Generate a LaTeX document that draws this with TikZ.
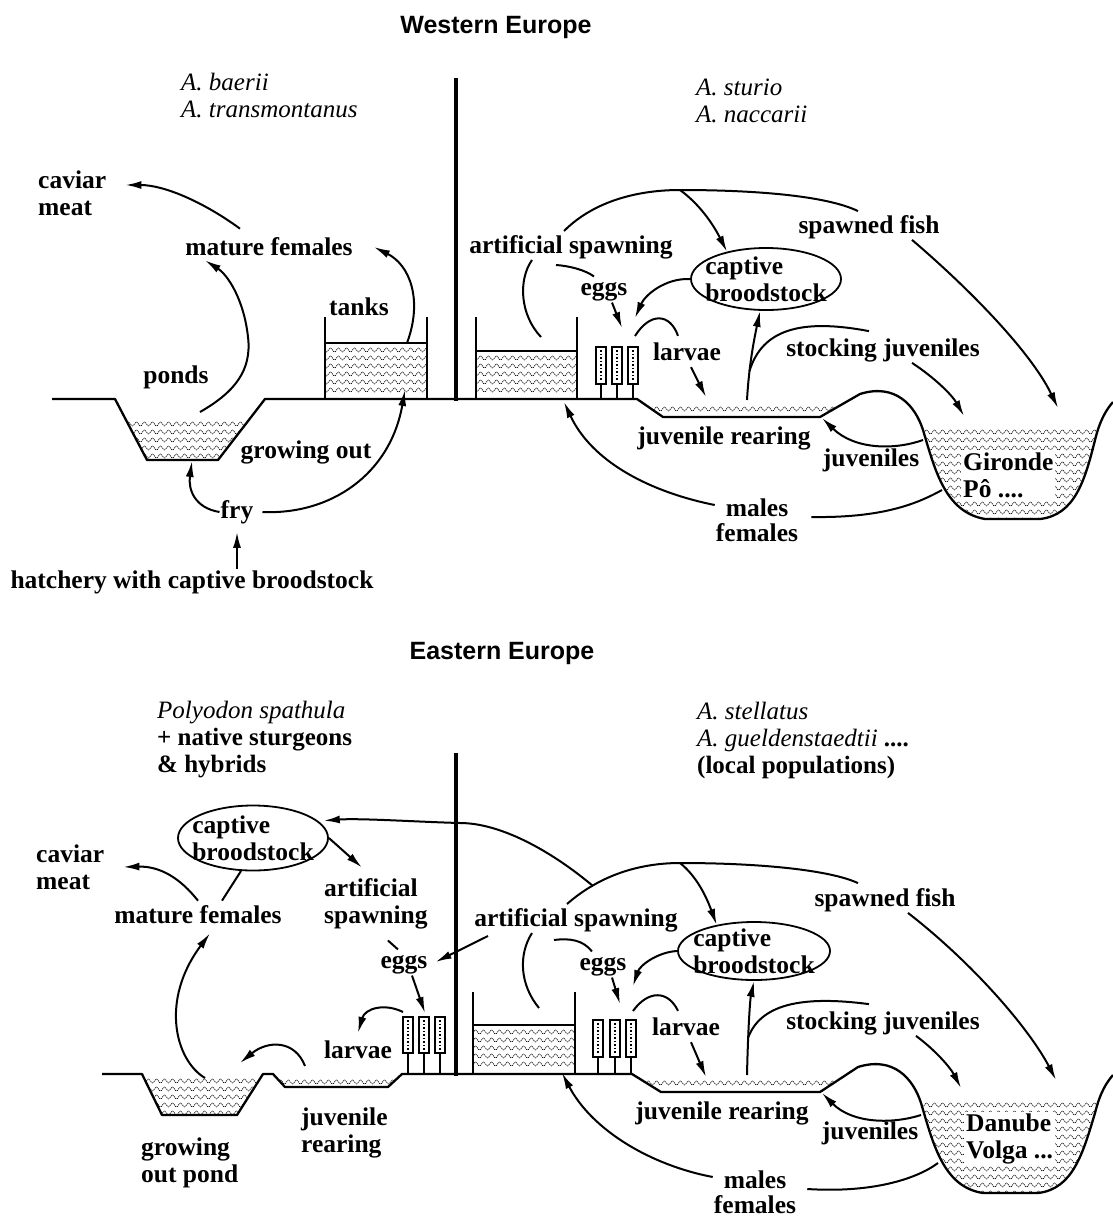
\documentclass[tikz,border=0pt]{standalone}
\usepackage{fontspec}
\setmainfont{Liberation Serif}
\newfontfamily\titrefont{Liberation Sans}
\usetikzlibrary{arrows.meta,shapes.geometric,decorations.pathmorphing}

\newcommand{\etiq}{\bfseries\fontsize{25.5}{27}\selectfont}
\newcommand{\espfont}{\fontsize{25}{27}\selectfont}

\tikzset{
  etiq/.style={font=\etiq, inner sep=1pt, align=center},
  etiqg/.style={font=\etiq, inner sep=1pt, align=left, anchor=west},
  espece/.style={font=\espfont, inner sep=0pt, align=left, anchor=west},
  titre/.style={font=\titrefont\bfseries\fontsize{25}{27}\selectfont},
  trait/.style={line width=2pt},
  fleche/.style={trait, -{Latex[length=16pt,width=8pt]}},
  sol/.style={line width=2.3pt, line join=round},
  paroi/.style={line width=1.9pt},
  bassin/.style={ellipse, draw, line width=1.8pt, minimum width=150pt, minimum height=62pt, inner sep=0pt},
  vague/.style={decorate, decoration={snake, segment length=8pt, amplitude=2pt}, line width=0.6pt, dash pattern=on 1.3pt off 0.8pt},
}

% eau : chemin de découpe, xmin, xmax, premier y, nombre de rangs
\newcommand{\eau}[5]{%
  \begin{scope}
    \clip #1;
    \foreach \k in {0,...,#5}
      \draw[vague] (#2,#4+\k*8) -- (#3,#4+\k*8);
  \end{scope}}

% bocal d'incubation : x, haut, bas, sol
\newcommand{\bocal}[4]{%
  \draw[line width=1.6pt, fill=white] (#1-5,#2) rectangle (#1+5,#3);
  \draw[line width=1.5pt, dotted] (#1,#2+3) -- (#1,#3-3);
  \draw[line width=2.2pt] (#1,#3) -- (#1,#4);}

\begin{document}
\begin{tikzpicture}[x=1pt,y=-1pt]
\useasboundingbox (0,0) rectangle (1113,1221);

%%%%%% Europe de l'Ouest
% Titre et especes
\node[titre] (ouest) at (496,27) {Western Europe};
\node[espece] (espO1) at (181,96) {\textit{A. baerii}\\\textit{A. transmontanus}};
\node[espece] (espO2) at (696,101) {\textit{A. sturio}\\\textit{A. naccarii}};

% Separation
\draw[line width=3.5pt] (456,78) -- (456,401);

% Sol, etang et bassin (gauche)
\draw[sol] (52,399) -- (115,399) -- (147,460) -- (218,460) -- (265,399) -- (456,399);
\eau{(126,420) -- (147,460) -- (218,460) -- (248,420) -- cycle}{110}{270}{424}{4}
\draw[paroi] (325,317) -- (325,399) (427,317) -- (427,399) (325,343) -- (427,343);
\eau{(325,343) rectangle (427,399)}{320}{430}{350}{5}

% Sol, bassin, bocaux et riviere (droite)
\draw[sol] (456,399) -- (637,399) -- (663,417) -- (820,417) -- (860,394)
  .. controls (895,383) and (915,405) .. (923,430)
  .. controls (935,470) and (945,512) .. (985,519) -- (1040,519)
  .. controls (1075,515) and (1085,480) .. (1095,440)
  .. controls (1100,420) and (1106,410) .. (1113,402);
\draw[paroi] (476,317) -- (476,399) (577,317) -- (577,399) (476,351) -- (577,351);
\eau{(476,351) rectangle (577,399)}{470}{580}{358}{4}
\eau{(640,401) -- (663,417) -- (820,417) -- (846,401) -- cycle}{630}{850}{409}{0}
\eau{(913,427) -- (923,430) .. controls (935,470) and (945,512) .. (985,519) -- (1040,519) .. controls (1075,515) and (1085,480) .. (1095,440) -- (1099,427) -- cycle}{900}{1113}{432}{11}
\foreach \x in {601,617,633} {\bocal{\x}{347}{384}{399}}

% Etiquettes (gauche)
\node[etiqg] (cav1) at (37,193) {caviar\\meat};
\node[etiq] (matF1) at (269,247) {mature females};
\node[etiq] (tanks) at (359,307) {tanks};
\node[etiq] (ponds) at (176,377) {ponds};
\node[etiq] (growout) at (306,452) {growing out};
\node[etiq] (fry) at (237,512) {fry};
\node[etiq] (hatch) at (192,582) {hatchery with captive broodstock};

% Etiquettes (droite)
\node[etiq] (artS1) at (571,247) {artificial spawning};
\node[etiq] (eggs1) at (604,292) {eggs};
\node[bassin] (cbR1) at (766,279) {};
\node[etiq, align=left] (cbR1t) at (cbR1) {captive\\broodstock};
\node[etiq] (spawn1) at (869,227) {spawned fish};
\node[etiq] (larv1) at (687,352) {larvae};
\node[etiq] (stock1) at (883,350) {stocking juveniles};
\node[etiq] (juvr1) at (724,438) {juvenile rearing};
\node[etiq] (juvs1) at (871,460) {juveniles};
\node[etiqg, fill=white, inner sep=2pt] (riv1) at (961,475) {Gironde\\Pô ....};
\node[etiq, font=\bfseries\fontsize{25.5}{25}\selectfont] (mf1) at (757,520) {males\\females};

% Points d'attache
\coordinate (pondO1) at (200,412);
\coordinate (pondB1) at (192,461);
\coordinate (tankO1) at (407,343);
\coordinate (tankB1) at (405,390);
\coordinate (sommet1) at (680,190);
\coordinate (rivO1) at (1058,408);
\coordinate (tankO2) at (541,337);
\coordinate (jarT1) at (622,328);
\coordinate (jarT2) at (635,318);
\coordinate (jarL1) at (635,336);
\coordinate (pondJ1) at (706,397);
\coordinate (pondU1) at (747,400);
\coordinate (branche1) at (749.5,371);
\coordinate (rivS1) at (964,416);
\coordinate (rivJ1) at (923,440);
\coordinate (pondC1) at (822,418);
\coordinate (rivM1) at (942,490);
\coordinate (tankM1) at (564,402);

% Fleches (gauche)
\draw[fleche] ([xshift=-29pt,yshift=8pt]matF1.north) .. controls (205,203) and (165,185) .. ([xshift=18pt,yshift=8pt]cav1.east);
\draw[fleche] (pondO1) .. controls (235,392) and (252,370) .. (248,337) .. controls (244,300) and (228,275) .. ([xshift=-64pt,yshift=-3pt]matF1.south);
\draw[fleche] (tankO1) .. controls (423,300) and (410,265) .. ([xshift=20pt]matF1.east);
\draw[fleche] (fry.west) .. controls (195,508) and (188,490) .. (pondB1);
\draw[fleche] ([xshift=8pt]fry.east) .. controls (330,515) and (390,475) .. (tankB1);
\draw[fleche] ([xshift=45pt]hatch.north) -- ([yshift=-7pt]fry.south);

% Fleches (droite)
\draw[trait] ([xshift=-7pt,yshift=3pt]artS1.north) .. controls (595,200) and (640,190) .. (sommet1) .. controls (750,190) and (825,195) .. ([xshift=-11pt,yshift=3pt]spawn1.north);
\draw[fleche] (sommet1) .. controls (698,203) and (712,222) .. (cbR1.145);
\draw[fleche] ([xshift=43pt]spawn1.south) .. controls (965,285) and (1030,350) .. (rivO1);
\draw[trait] ([xshift=-39pt]artS1.south) .. controls (518,280) and (520,315) .. (tankO2);
\draw[trait] ([xshift=-15pt,yshift=-5pt]artS1.south) .. controls (570,266) and (585,270) .. ([xshift=-10pt,yshift=5pt]eggs1.north);
\draw[fleche] ([xshift=8pt]eggs1.south) -- (jarT1);
\draw[fleche] (cbR1.west) .. controls (665,278) and (645,295) .. (jarT2);
\draw[trait] (jarL1) .. controls (650,312) and (670,313) .. ([xshift=-9pt,yshift=6pt]larv1.north);
\draw[fleche] ([xshift=4pt,yshift=-5pt]larv1.south) -- (pondJ1);
\draw[fleche] (pondU1) .. controls (749,365) and (754,340) .. ([xshift=-6pt]cbR1.south);
\draw[trait] (branche1) .. controls (762,330) and (800,318) .. ([xshift=-14pt,yshift=6pt]stock1.north);
\draw[fleche] ([xshift=29pt]stock1.south) .. controls (935,378) and (952,395) .. (rivS1);
\draw[fleche] (rivJ1) .. controls (895,450) and (855,450) .. (pondC1);
\draw[trait] (rivM1) .. controls (915,505) and (880,518) .. ([xshift=12pt,yshift=3pt]mf1.east);
\draw[fleche] ([yshift=15pt]mf1.west) .. controls (650,492) and (592,462) .. (tankM1);

%%%%%% Europe de l'Est
% Titre et especes
\node[titre] (est) at (502,653) {Eastern Europe};
\node[espece] (espE1) at (157,740) {\textit{Polyodon spathula}\\\textbf{+ native sturgeons}\\\textbf{\& hybrids}};
\node[espece] (espE2) at (697,740) {\textit{A. stellatus}\\\textit{A. gueldenstaedtii} \textbf{....}\\\textbf{(local populations)}};

% Separation
\draw[line width=3.5pt] (456,753) -- (456,1076);

% Sol, etangs et bocaux (gauche)
\draw[sol] (102,1074) -- (142,1074) -- (162,1115) -- (237,1115) -- (263,1074) -- (273,1074) -- (285,1087) -- (388,1087) -- (402,1074) -- (456,1074);
\eau{(144,1077) -- (162,1115) -- (237,1115) -- (261,1077) -- cycle}{130}{270}{1081}{4}
\eau{(276,1077) -- (285,1087) -- (388,1087) -- (399,1077) -- cycle}{270}{400}{1082}{0}
\foreach \x in {408,424,440} {\bocal{\x}{1017}{1053}{1074}}

% Sol, bassin, bocaux et riviere (droite)
\draw[sol] (456,1074) -- (632,1074) -- (661,1092) -- (820,1092) -- (858,1067)
  .. controls (893,1056) and (913,1078) .. (921,1103)
  .. controls (933,1143) and (943,1187) .. (983,1193) -- (1038,1193)
  .. controls (1073,1189) and (1083,1153) .. (1095,1113)
  .. controls (1100,1093) and (1106,1083) .. (1113,1075);
\draw[paroi] (473,992) -- (473,1074) (575,992) -- (575,1074) (473,1025) -- (575,1025);
\eau{(473,1025) rectangle (575,1074)}{465}{580}{1032}{4}
\eau{(636,1076) -- (661,1092) -- (820,1092) -- (845,1076) -- cycle}{630}{850}{1083}{0}
\eau{(913,1100) -- (921,1103) .. controls (933,1143) and (943,1187) .. (983,1193) -- (1038,1193) .. controls (1073,1189) and (1083,1153) .. (1095,1113) -- (1099,1100) -- cycle}{900}{1113}{1105}{11}
\foreach \x in {598,615,631} {\bocal{\x}{1020}{1057}{1074}}

% Etiquettes (gauche)
\node[etiqg] (cav2) at (35,867) {caviar\\meat};
\node[bassin, minimum height=65pt] (cbL2) at (253,838) {};
\node[etiq, align=left] (cbL2t) at (cbL2) {captive\\broodstock};
\node[etiq] (matF2) at (198,915) {mature females};
\node[etiqg] (artL2) at (323,904) {artificial\\spawning};
\node[etiq] (eggsL2) at (404,965) {eggs};
\node[etiq] (larvL2) at (358,1050) {larvae};
\node[etiqg] (juvL2) at (300,1133) {juvenile\\rearing};
\node[etiqg] (grow2) at (140,1163) {growing\\out pond};

% Etiquettes (droite)
\node[etiq] (artS2) at (576,920) {artificial spawning};
\node[etiq] (eggsR2) at (603,967) {eggs};
\node[bassin, minimum width=152pt, minimum height=58pt] (cbR2) at (754,951) {};
\node[etiq, align=left] (cbR2t) at (cbR2) {captive\\broodstock};
\node[etiq] (spawn2) at (885,900) {spawned fish};
\node[etiq] (larv2) at (686,1027) {larvae};
\node[etiq] (stock2) at (883,1023) {stocking juveniles};
\node[etiq] (juvr2) at (722,1113) {juvenile rearing};
\node[etiq] (juvs2) at (870,1133) {juveniles};
\node[etiqg, fill=white, inner sep=2pt] (riv2) at (964,1139) {Danube\\Volga ...};
\node[etiq, font=\bfseries\fontsize{25.5}{25}\selectfont] (mf2) at (755,1192) {males\\females};

% Points d'attache
\coordinate (jonction) at (593,886);
\coordinate (jarT3) at (425,1013);
\coordinate (jarL3) at (403,1012);
\coordinate (pondJ3) at (305,1066);
\coordinate (pondG3) at (240,1063);
\coordinate (pondG4) at (205,1078);
\coordinate (sommet2) at (680,863);
\coordinate (rivO2) at (1056,1080);
\coordinate (tankO4) at (539,1008);
\coordinate (jarT4) at (620,1004);
\coordinate (jarT5) at (633,986);
\coordinate (jarL5) at (633,1011);
\coordinate (pondJ5) at (706,1077);
\coordinate (pondU5) at (747,1075);
\coordinate (branche2) at (748,1038);
\coordinate (rivS2) at (961,1088);
\coordinate (rivJ2) at (921,1115);
\coordinate (pondC2) at (822,1093);
\coordinate (rivM2) at (938,1163);
\coordinate (tankM2) at (562,1073);

% Fleches (gauche)
\draw[fleche] (jonction) .. controls (550,850) and (500,823) .. (460,823) .. controls (420,822) and (360,818) .. ([xshift=6pt]cbL2.15);
\draw[fleche] (cbL2.east) -- ([xshift=-14pt,yshift=10pt]artL2.north);
\draw[trait] ([xshift=12pt,yshift=-10pt]artL2.south) -- ([xshift=-6pt,yshift=5pt]eggsL2.north);
\draw[fleche] ([xshift=-88pt,yshift=-3pt]artS2.south) -- ([xshift=7pt,yshift=3pt]eggsL2.east);
\draw[fleche] ([xshift=8pt]eggsL2.south) -- (jarT3);
\draw[fleche] (jarL3) .. controls (385,1003) and (365,1008) .. ([yshift=7pt]larvL2.north);
\draw[fleche] (pondJ3) .. controls (295,1040) and (268,1040) .. (pondG3);
\draw[fleche] (pondG4) .. controls (175,1060) and (160,1000) .. ([xshift=12pt,yshift=-8pt]matF2.south);
\draw[fleche] ([yshift=4pt]matF2.north) .. controls (180,878) and (160,866) .. ([xshift=18pt]cav2.east);
\draw[trait] ([xshift=24pt,yshift=4pt]matF2.north) -- (cbL2.250);

% Fleches (droite)
\draw[trait] ([xshift=-9pt,yshift=3pt]artS2.north) .. controls (600,875) and (640,863) .. (sommet2) .. controls (760,863) and (830,870) .. ([xshift=-27pt,yshift=4pt]spawn2.north);
\draw[fleche] (sommet2) .. controls (695,875) and (705,893) .. (cbR2.145);
\draw[fleche] ([xshift=23pt]spawn2.south) .. controls (975,965) and (1030,1030) .. (rivO2);
\draw[trait] ([xshift=-44pt]artS2.south) .. controls (518,955) and (520,985) .. (tankO4);
\draw[trait] ([xshift=-22pt,yshift=-7pt]artS2.south) .. controls (570,938) and (583,940) .. ([xshift=-11pt,yshift=5pt]eggsR2.north);
\draw[fleche] ([xshift=9pt]eggsR2.south) -- (jarT4);
\draw[fleche] (cbR2.west) .. controls (658,952) and (640,965) .. (jarT5);
\draw[trait] (jarL5) .. controls (648,990) and (668,990) .. ([xshift=-8pt,yshift=6pt]larv2.north);
\draw[fleche] ([xshift=5pt,yshift=-5pt]larv2.south) -- (pondJ5);
\draw[fleche] (pondU5) .. controls (748,1030) and (750,1000) .. (cbR2.south);
\draw[trait] (branche2) .. controls (760,1005) and (800,995) .. ([xshift=-14pt,yshift=6pt]stock2.north);
\draw[fleche] ([xshift=33pt]stock2.south) .. controls (935,1050) and (950,1067) .. (rivS2);
\draw[fleche] (rivJ2) .. controls (893,1124) and (853,1124) .. (pondC2);
\draw[trait] (rivM2) .. controls (915,1180) and (870,1193) .. ([xshift=10pt,yshift=3pt]mf2.east);
\draw[fleche] ([yshift=15pt]mf2.west) .. controls (650,1165) and (592,1130) .. (tankM2);
\end{tikzpicture}
\end{document}
